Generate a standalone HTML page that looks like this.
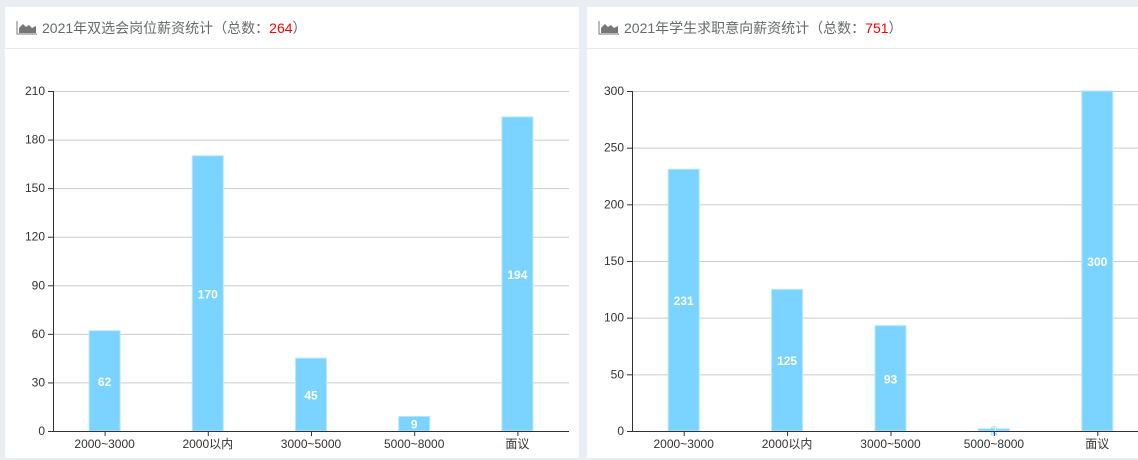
<!DOCTYPE html>
<html><head><meta charset="utf-8"><style>
body{margin:0;width:1138px;height:460px;background:#eaedf1;overflow:hidden;font-family:"Liberation Sans","Noto Sans CJK SC",sans-serif}
.panel{position:absolute;top:7px;height:451px;background:#fff}
.hdr{height:41px;border-bottom:1px solid #e7eaec;font-size:14px;color:#676a6c;line-height:42px;padding-left:37px;position:relative}
.hdr svg{position:absolute;left:11px;top:14px}
.red{color:#f00}
svg.c{position:absolute;left:0;top:0}
</style></head><body>
<div class="panel" style="left:5px;width:574px">
<div class="hdr"><svg width="22" height="14"><path d="M1 0V13H21" stroke="#777" fill="none"/><path d="M3 12L3 7 7 3 10 6 13 4 16 7 20 5 20 12Z" fill="#777"/></svg>2021年双选会岗位薪资统计（总数：<span class="red">264</span>）</div>
</div>
<div class="panel" style="left:587px;width:560px">
<div class="hdr"><svg width="22" height="14"><path d="M1 0V13H21" stroke="#777" fill="none"/><path d="M3 12L3 7 7 3 10 6 13 4 16 7 20 5 20 12Z" fill="#777"/></svg>2021年学生求职意向薪资统计（总数：<span class="red">751</span>）</div>
</div>
<svg class="c" width="1138" height="460" id="svg"></svg>
<script>
const categories=["2000~3000","2000以内","3000~5000","5000~8000","面议"];
const values1=[62,170,45,9,194];
const values2=[231,125,93,2,300];
const ticks1=[0,30,60,90,120,150,180,210];
const ticks2=[0,50,100,150,200,250,300];
const NS="http://www.w3.org/2000/svg";
const svg=document.getElementById('svg');
function mk(tag,attrs,parent){const e=document.createElementNS(NS,tag);for(const k in attrs)e.setAttribute(k,attrs[k]);(parent||svg).appendChild(e);return e;}
function chart(name,x0,x1,vals,ticks){
  const y0=431,yTop=91,max=ticks[ticks.length-1];
  const y=v=>y0-(v/max)*(y0-yTop);
  const band=(x1-x0)/categories.length;
  const xc=i=>x0+band*(i+0.5);
  const g=mk('g',{});
  
  
  ticks.forEach(t=>{
    if(t>0){const l=mk('line',{x1:x0,x2:Math.min(x1,1138),y1:y(t)+0.5,y2:y(t)+0.5,stroke:'#ccc'},g);
    
    }
    mk('line',{x1:x0-5,x2:x0,y1:y(t)+0.5,y2:y(t)+0.5,stroke:'#333'},g);
    const tx=mk('text',{x:x0-8,y:y(t)+4,'text-anchor':'end','font-size':12,fill:'#333'},g);
    
    
    tx.textContent=t;
  });
  vals.forEach((v,i)=>{
    const bw=31;
    const r=mk('rect',{x:xc(i)-bw/2,y:y(v),width:bw,height:y0-y(v),fill:'#7ad4ff',stroke:'#b9e8ff','stroke-width':1},g);
    
    
    const lb=mk('text',{x:xc(i),y:(y(v)+y0)/2+5,'text-anchor':'middle','font-size':12,'font-weight':'bold',fill:'#fff'},g);
    if(v<5){lb.setAttribute('stroke','#7ad4ff');lb.setAttribute('stroke-width','0.6');}
    
    
    lb.textContent=v;
    mk('line',{x1:xc(i)+0.5,x2:xc(i)+0.5,y1:y0,y2:y0+5,stroke:'#333'},g);
    const xl=mk('text',{x:xc(i),y:y0+17,'text-anchor':'middle','font-size':12,fill:'#333'},g);
    
    
    xl.textContent=categories[i];
  });
  const ya=mk('line',{x1:x0+0.5,x2:x0+0.5,y1:yTop,y2:y0,stroke:'#333'},g);
  
  
  const xa=mk('line',{x1:x0,x2:Math.min(x1,1138),y1:y0+0.5,y2:y0+0.5,stroke:'#333'},g);
  
  
}
chart('job-salary-chart',53,569,values1,ticks1);
chart('student-salary-chart',632,1149,values2,ticks2);
</script>
</body></html>
